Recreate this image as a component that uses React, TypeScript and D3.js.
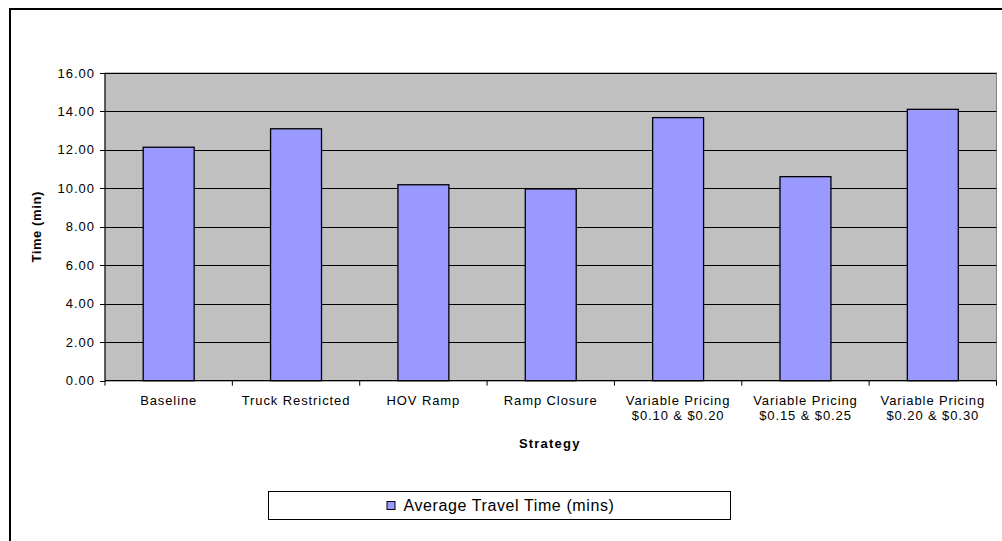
import React from "react";
import * as d3 from "d3";

const categories: string[][] = [
  ["Baseline"],
  ["Truck Restricted"],
  ["HOV Ramp"],
  ["Ramp Closure"],
  ["Variable Pricing", "$0.10 & $0.20"],
  ["Variable Pricing", "$0.15 & $0.25"],
  ["Variable Pricing", "$0.20 & $0.30"],
];
const values: number[] = [12.14, 13.1, 10.19, 9.97, 13.68, 10.61, 14.11];
const yTicks: number[] = [0, 2, 4, 6, 8, 10, 12, 14, 16];
const seriesName = "Average Travel Time (mins)";
const xTitle = "Strategy";
const yTitle = "Time (min)";

const W = 1002;
const H = 541;
const plot = { left: 105, right: 996.5, top: 73, bottom: 380.7 };

export default function App() {
  const x = d3
    .scaleBand<number>()
    .domain(d3.range(categories.length))
    .range([plot.left, plot.right])
    .paddingInner(0)
    .paddingOuter(0);
  const y = d3.scaleLinear().domain([0, 16]).range([plot.bottom, plot.top]);
  const barW = x.bandwidth() * 0.4;
  const font = "'Liberation Sans', Arial, sans-serif";
  const bounds = d3.range(categories.length + 1).map((i) => plot.left + i * x.bandwidth());

  return (
    <svg
      width={W}
      height={H}
      style={{ position: "absolute", left: 0, top: 0, background: "#fff" }}
      fontFamily={font}
    >
      <rect x={0} y={0} width={W} height={H} fill="#fff" />
      <rect x={10} y={9} width={1000} height={540} fill="none" stroke="#000" strokeWidth={2} />
      <rect
        x={plot.left}
        y={plot.top}
        width={plot.right - plot.left}
        height={plot.bottom - plot.top}
        fill="#C0C0C0"
        stroke="#808080"
        strokeWidth={1}
      />
      {yTicks.slice(1).map((t) => (
        <line
          key={"g" + t}
          x1={plot.left}
          x2={plot.right}
          y1={Math.round(y(t)) + 0.5}
          y2={Math.round(y(t)) + 0.5}
          stroke="#000"
          strokeWidth={1}
        />
      ))}
      {values.map((v, i) => {
        const cx = (x(i) as number) + x.bandwidth() / 2;
        return (
          <rect
            key={"b" + i}
            x={cx - barW / 2}
            y={y(v)}
            width={barW}
            height={y(0) - y(v)}
            fill="#9999FF"
            stroke="#000"
            strokeWidth={1.3}
          />
        );
      })}
      {/* y axis */}
      <line x1={plot.left} x2={plot.left} y1={plot.top} y2={plot.bottom} stroke="#000" strokeWidth={1} />
      {yTicks.map((t) => (
        <g key={"yt" + t}>
          <line
            x1={plot.left - 5}
            x2={plot.left}
            y1={Math.round(y(t)) + 0.5}
            y2={Math.round(y(t)) + 0.5}
            stroke="#000"
          />
          <text
            x={plot.left - 10}
            y={y(t)}
            dy="0.35em"
            textAnchor="end"
            fontSize={13}
            letterSpacing={1}
            fill="#000"
          >
            {t.toFixed(2)}
          </text>
        </g>
      ))}
      {/* x axis */}
      <line x1={plot.left} x2={plot.right} y1={plot.bottom} y2={plot.bottom} stroke="#000" strokeWidth={1.2} />
      {bounds.map((b, i) => (
        <line key={"xt" + i} x1={b} x2={b} y1={plot.bottom} y2={plot.bottom + 5} stroke="#000" />
      ))}
      {categories.map((lines, i) => {
        const cx = (x(i) as number) + x.bandwidth() / 2;
        return (
          <text key={"xl" + i} textAnchor="middle" fontSize={13} letterSpacing={0.9} fill="#000">
            {lines.map((l, j) => (
              <tspan key={j} x={cx} y={404.5 + j * 15}>
                {l}
              </tspan>
            ))}
          </text>
        );
      })}
      <text
        x={(plot.left + plot.right) / 2 - 1}
        y={447.5}
        textAnchor="middle"
        fontSize={13}
        letterSpacing={1.2}
        fontWeight="bold"
      >
        {xTitle}
      </text>
      <text
        transform={`translate(41,${(plot.top + plot.bottom) / 2}) rotate(-90)`}
        textAnchor="middle"
        fontSize={13}
        letterSpacing={0.6}
        fontWeight="bold"
      >
        {yTitle}
      </text>
      {/* legend */}
      <rect x={268.5} y={491.5} width={462} height={28} fill="#fff" stroke="#000" strokeWidth={1} />
      <rect x={387} y={501.5} width={8} height={8} fill="#9999FF" stroke="#000" strokeWidth={1} />
      <text x={403.5} y={505.5} dy="0.35em" fontSize={16} letterSpacing={0.6} fill="#000">
        {seriesName}
      </text>
    </svg>
  );
}
